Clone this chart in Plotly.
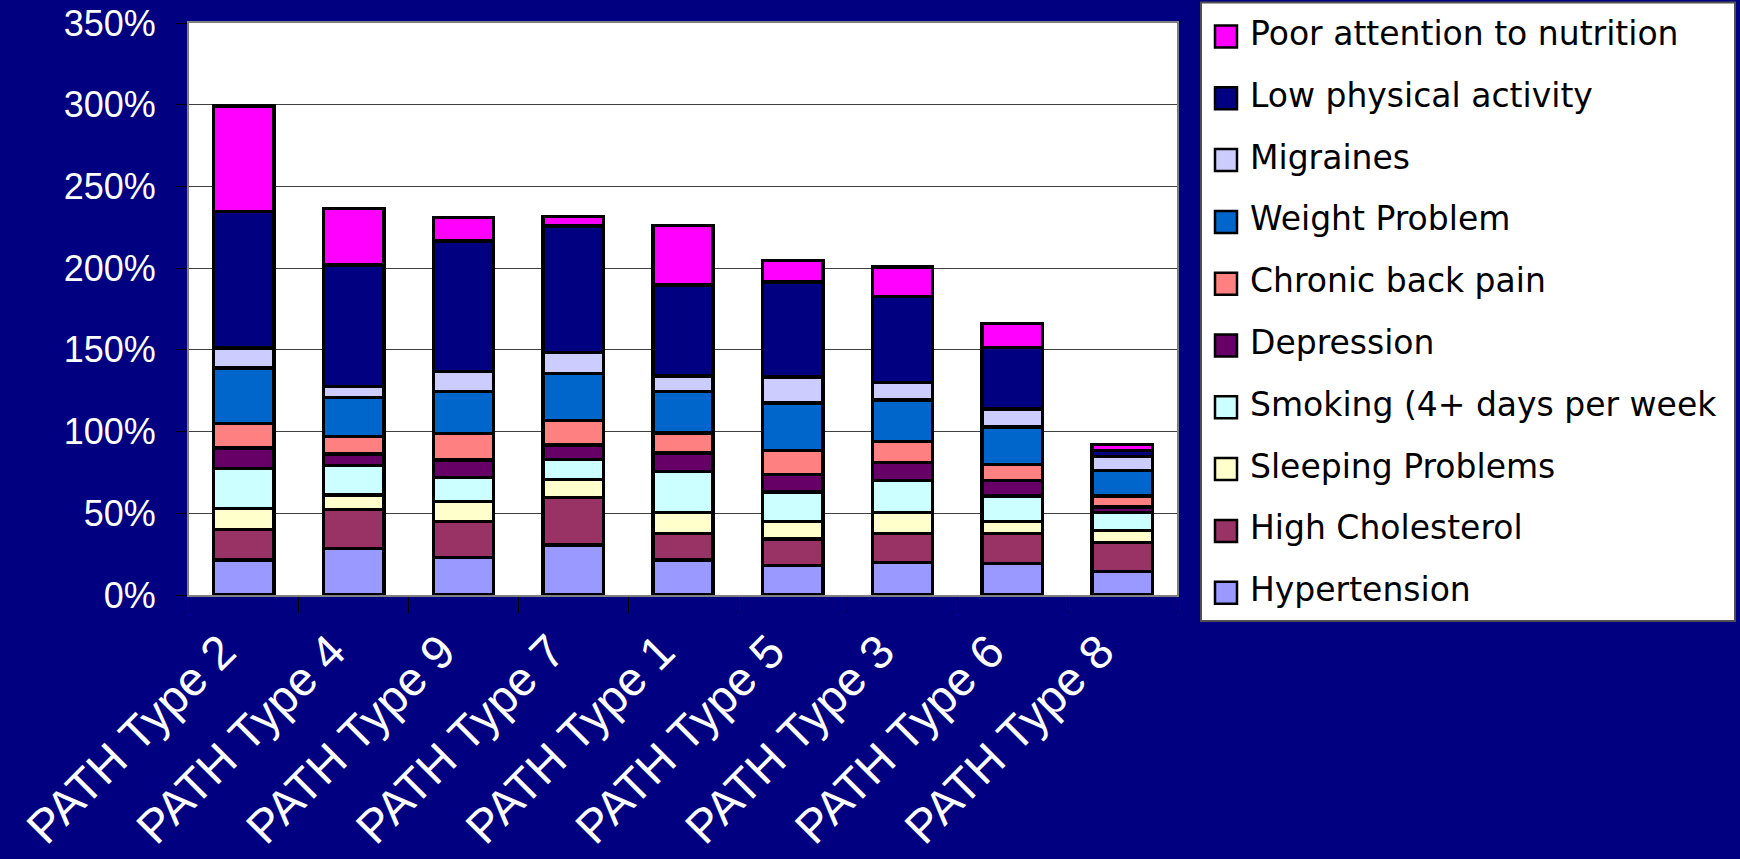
import plotly.graph_objects as go

# PATH segments, in display order
categories = ["PATH Type 2", "PATH Type 4", "PATH Type 9", "PATH Type 7", "PATH Type 1",
              "PATH Type 5", "PATH Type 3", "PATH Type 6", "PATH Type 8"]

# Share of each segment (%) reporting each condition
hypertension = [21.5, 28.6, 23.0, 30.5, 21.5, 18.0, 19.8, 19.4, 14.3]
high_cholesterol = [18.4, 23.9, 21.8, 29.0, 16.3, 16.2, 18.0, 18.4, 18.0]
sleeping_problems = [12.9, 8.7, 12.5, 11.2, 12.7, 10.8, 12.7, 7.2, 7.0]
smoking = [24.6, 17.9, 14.5, 12.3, 25.2, 18.0, 19.6, 15.7, 11.2]
depression = [12.6, 7.3, 10.9, 8.8, 11.2, 10.8, 11.1, 9.4, 3.3]
back_pain = [14.8, 10.6, 16.3, 14.9, 12.3, 14.5, 12.9, 9.7, 6.9]
weight_problem = [34.1, 23.8, 25.4, 28.9, 25.5, 29.3, 25.1, 23.1, 15.4]
migraines = [12.3, 6.9, 12.3, 12.9, 9.2, 15.9, 10.7, 11.0, 8.8]
low_activity = [83.5, 74.3, 79.8, 77.4, 55.9, 58.1, 52.7, 37.4, 3.4]
poor_nutrition = [64.6, 34.4, 14.5, 5.6, 36.2, 12.9, 18.2, 15.0, 3.7]

series_names = ["Hypertension", "High Cholesterol", "Sleeping Problems",
                "Smoking (4+ days per week", "Depression", "Chronic back pain",
                "Weight Problem", "Migraines", "Low physical activity",
                "Poor attention to nutrition"]
series_values = [hypertension, high_cholesterol, sleeping_problems, smoking, depression,
                 back_pain, weight_problem, migraines, low_activity, poor_nutrition]
series_colors = ["#9999FF", "#993366", "#FFFFCC", "#CCFFFF", "#660066",
                 "#FF8080", "#0066CC", "#CCCCFF", "#000080", "#FF00FF"]

y_ticks = [0, 50, 100, 150, 200, 250, 300, 350]
y_tick_labels = [f"{v}%" for v in y_ticks]

W, H = 1740, 859
ML, MR, MT, MB = 189, 563, 23, 264
PW, PH = W - ML - MR, H - MT - MB


def px_x(px):
    return (px - ML) / PW


def px_y(py):
    return (H - MB - py) / PH


fig = go.Figure()
for name, vals, color in zip(series_names, series_values, series_colors):
    fig.add_bar(x=categories, y=vals, name=name, showlegend=False,
                marker=dict(color=color, line=dict(color="black", width=3.4)))

# Legend panel on the right, top entry = top of the stack
shapes = [dict(type="rect", xref="paper", yref="paper",
               x0=px_x(1201), x1=px_x(1735), y0=px_y(621), y1=px_y(2.5),
               fillcolor="white", line=dict(color="#505050", width=2), layer="below")]
annotations = []
row0, row_step = 36.5, 61.8
for i, (name, color) in enumerate(zip(reversed(series_names), reversed(series_colors))):
    cy = row0 + i * row_step
    shapes.append(dict(type="rect", xref="paper", yref="paper",
                       x0=px_x(1215), x1=px_x(1237), y0=px_y(cy + 11), y1=px_y(cy - 11),
                       fillcolor=color, line=dict(color="black", width=2.5)))
    annotations.append(dict(text=name, xref="paper", yref="paper",
                            x=px_x(1248), y=px_y(cy - 3), xanchor="left", yanchor="middle",
                            showarrow=False,
                            font=dict(family="DejaVu Sans", size=33, color="black")))

fig.update_layout(
    width=W, height=H,
    margin=dict(l=ML, r=MR, t=MT, b=MB, pad=0, autoexpand=False),
    barmode="stack", bargap=0.45,
    paper_bgcolor="#000080", plot_bgcolor="white",
    font=dict(family="Liberation Sans, Arial", color="white"),
    shapes=shapes, annotations=annotations,
    showlegend=False,
)
fig.update_yaxes(range=[0, 350], tickmode="array", tickvals=y_ticks, ticktext=y_tick_labels,
                 tickfont=dict(size=36, color="white"), automargin=False,
                 ticks="outside", ticklen=11, tickcolor="black", tickwidth=1,
                 ticklabelstandoff=13,
                 showgrid=True, gridcolor="#404040", gridwidth=1.2,
                 showline=True, linecolor="#808080", linewidth=2, mirror=True,
                 zeroline=False)
fig.update_xaxes(type="category", tickangle=-45, automargin=False,
                 tickfont=dict(size=47, color="white"),
                 ticks="outside", tickson="boundaries", ticklen=16, tickcolor="black",
                 tickwidth=1, ticklabelstandoff=8, ticklabelshift=-22,
                 showline=True, linecolor="#808080", linewidth=2, mirror=True)

fig.write_html("out.html")
